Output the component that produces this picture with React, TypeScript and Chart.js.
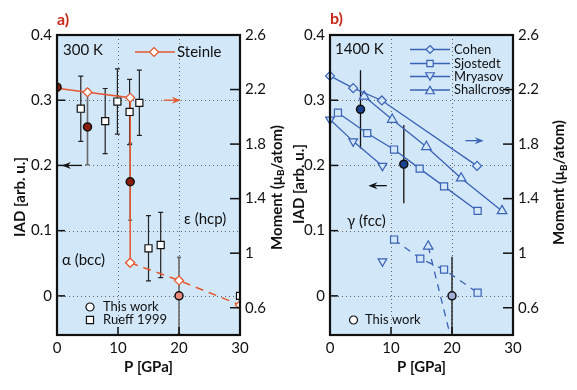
import React, { useEffect, useRef } from 'react';
import { Chart, registerables } from 'chart.js';

Chart.register(...registerables);

const FONT = 'Lato, "DejaVu Sans", sans-serif';
const BG = '#d2e7f8';
const ORANGE = '#e4582f';
const BLUE = '#3a62b6';
const DARKRED = '#8c1c0c';
const SALMON = '#e98a7c';
const DARKBLUE = '#1c428e';
const LIGHTBLUE = '#a3afd9';

// ---- shared axes ----
const P_TICKS = [0, 10, 20, 30];
const P_LABELS = ['0', '10', '20', '30'];
const IAD_TICKS = [0, 0.1, 0.2, 0.3, 0.4];
const IAD_LABELS = ['0', '0.1', '0.2', '0.3', '0.4'];
const MOMENT_TICKS = [0.6, 1, 1.4, 1.8, 2.2, 2.6];
const MOMENT_LABELS = ['0.6', '1', '1.4', '1.8', '2.2', '2.6'];
const P_GRID = [10, 20];
const IAD_GRID = [0, 0.1, 0.2, 0.3];
const MOMENT_INNER_TICKS = [0.6, 1, 1.4, 1.8, 2.2];

// ---- panel a (300 K) ----
const A_WORK_P = [0, 5, 12, 20];
const A_WORK_IAD = [0.32, 0.259, 0.175, 0];
const A_WORK_ERR = [0, 0.058, 0.059, 0.059];
const A_WORK_COLORS = [DARKRED, DARKRED, DARKRED, SALMON];
const RUEFF_P = [3.9, 7.9, 9.9, 11.9, 13.5, 15, 17, 30];
const RUEFF_IAD = [0.287, 0.268, 0.298, 0.282, 0.296, 0.073, 0.078, 0];
const RUEFF_ERR = [0.05, 0.05, 0.05, 0.05, 0.05, 0.05, 0.05, 0];
const STEINLE_HI_P = [0, 5, 12, 12];
const STEINLE_HI_M = [2.21, 2.18, 2.14, 0.93];
const STEINLE_LO_P = [12, 20, 30];
const STEINLE_LO_M = [0.93, 0.8, 0.62];

// ---- panel b (1400 K) ----
const B_WORK_P = [5, 12.1, 20];
const B_WORK_IAD = [0.286, 0.202, 0];
const B_WORK_ERR = [0.06, 0.06, 0.06];
const B_WORK_COLORS = [DARKBLUE, DARKBLUE, LIGHTBLUE];
const COHEN_P = [0, 3.8, 8.5, 24.1];
const COHEN_M = [2.3, 2.21, 2.12, 1.64];
const SJOSTEDT_P = [1.3, 6.1, 10.5, 14.7, 18.7, 24.2];
const SJOSTEDT_M = [2.03, 1.88, 1.76, 1.62, 1.49, 1.31];
const MRYASOV_P = [0, 3.8, 8.6];
const MRYASOV_M = [1.98, 1.82, 1.64];
const SHALLCROSS_P = [5.6, 10.2, 15.8, 21.5, 28.2];
const SHALLCROSS_M = [2.15, 1.98, 1.78, 1.55, 1.31];
const SJOSTEDT_LO_P = [10.5, 14.8, 18.7, 24.2];
const SJOSTEDT_LO_M = [1.1, 0.96, 0.88, 0.71];
const MRYASOV_LO_P = [8.6];
const MRYASOV_LO_M = [0.94];
const SHALLCROSS_LO_P = [16.1, 19.8];
const SHALLCROSS_LO_M = [1.05, 0.38];

const pts = (xs: number[], ys: number[]) => xs.map((x, i) => ({ x, y: ys[i] }));

type TextItem = { t: string; x: number; y: number; size: number; bold?: boolean; color?: string };
type Arrow = { x1: number; x2: number; y: number; color: string };
type LegendItem = { x: number; y: number; style: string; rotation?: number; color: string; fill: string; line?: [number, number]; radius: number };

function drawArrow(ctx: CanvasRenderingContext2D, x1: number, y1: number, x2: number, y2: number, color: string) {
  const ang = Math.atan2(y2 - y1, x2 - x1);
  const c = Math.cos(ang), s = Math.sin(ang);
  const hl = 9, hw = 3.5;
  const bx = x2 - hl * c, by = y2 - hl * s;
  ctx.save();
  ctx.setLineDash([]);
  ctx.strokeStyle = color;
  ctx.fillStyle = color;
  ctx.lineWidth = 1.3;
  ctx.beginPath();
  ctx.moveTo(x1, y1);
  ctx.lineTo(bx + 3 * c, by + 3 * s);
  ctx.stroke();
  ctx.beginPath();
  ctx.moveTo(x2, y2);
  ctx.lineTo(bx - hw * s, by + hw * c);
  ctx.lineTo(bx + 3 * c, by + 3 * s);
  ctx.lineTo(bx + hw * s, by - hw * c);
  ctx.closePath();
  ctx.fill();
  ctx.restore();
}

function drawRotatedTitle(ctx: CanvasRenderingContext2D, cx: number, cy: number, parts: { t: string; sub?: boolean }[]) {
  ctx.save();
  ctx.translate(cx, cy);
  ctx.rotate(-Math.PI / 2);
  ctx.fillStyle = '#111';
  ctx.textBaseline = 'middle';
  ctx.textAlign = 'left';
  const big = `bold 15px ${FONT}`;
  const small = `bold 10px ${FONT}`;
  let total = 0;
  for (const p of parts) {
    ctx.font = p.sub ? small : big;
    total += ctx.measureText(p.t).width;
  }
  let x = -total / 2;
  for (const p of parts) {
    ctx.font = p.sub ? small : big;
    ctx.fillText(p.t, x, p.sub ? 4 : 0);
    x += ctx.measureText(p.t).width;
  }
  ctx.restore();
}

function drawPointLocal(ctx: CanvasRenderingContext2D, style: string, r: number, x: number, y: number, rot: number) {
  ctx.save();
  ctx.translate(x, y);
  ctx.rotate((rot * Math.PI) / 180);
  ctx.beginPath();
  if (style === 'circle') {
    ctx.arc(0, 0, r, 0, Math.PI * 2);
  } else if (style === 'rect') {
    const s = r * Math.SQRT1_2;
    ctx.rect(-s, -s, 2 * s, 2 * s);
  } else if (style === 'rectRot') {
    ctx.moveTo(0, -r);
    ctx.lineTo(r, 0);
    ctx.lineTo(0, r);
    ctx.lineTo(-r, 0);
    ctx.closePath();
  } else if (style === 'triangle') {
    for (let k = 0; k < 3; k++) {
      const ang = -Math.PI / 2 + (k * 2 * Math.PI) / 3;
      const px = Math.cos(ang) * r, py = Math.sin(ang) * r + r * 0.25;
      if (k === 0) ctx.moveTo(px, py);
      else ctx.lineTo(px, py);
    }
    ctx.closePath();
  }
  ctx.fill();
  ctx.stroke();
  ctx.restore();
}

function makeDecor(cfg: {
  id: string;
  texts: TextItem[];
  arrows: Arrow[];
  legend: LegendItem[];
  leftTitle: [number, number];
  rightTitle: [number, number];
}) {
  return {
    id: cfg.id,
    beforeDatasetsDraw(chart: any) {
      const { ctx, chartArea: a, scales } = chart;
      ctx.save();
      ctx.fillStyle = BG;
      ctx.fillRect(a.left, a.top, a.right - a.left, a.bottom - a.top);
      // dotted grid
      ctx.strokeStyle = '#666';
      ctx.lineWidth = 1;
      ctx.setLineDash([1, 3]);
      for (const v of P_GRID) {
        const x = Math.round(scales.x.getPixelForValue(v)) + 0.5;
        ctx.beginPath();
        ctx.moveTo(x, a.top);
        ctx.lineTo(x, a.bottom);
        ctx.stroke();
      }
      for (const v of IAD_GRID) {
        const y = Math.round(scales.y.getPixelForValue(v)) + 0.5;
        ctx.beginPath();
        ctx.moveTo(a.left, y);
        ctx.lineTo(a.right, y);
        ctx.stroke();
      }
      ctx.setLineDash([]);
      // error bars
      ctx.beginPath();
      ctx.rect(a.left, a.top, a.right - a.left, a.bottom - a.top);
      ctx.clip();
      chart.data.datasets.forEach((ds: any, di: number) => {
        if (!ds.errors) return;
        const meta = chart.getDatasetMeta(di);
        const ys = scales[ds.yAxisID];
        ctx.strokeStyle = ds.errColor;
        ctx.lineWidth = ds.errWidth || 1.3;
        ds.data.forEach((d: any, i: number) => {
          const e = ds.errors[i];
          if (!e) return;
          const x = meta.data[i].x;
          const y1 = ys.getPixelForValue(d.y + e);
          const y2 = ys.getPixelForValue(d.y - e);
          ctx.beginPath();
          ctx.moveTo(x, y1);
          ctx.lineTo(x, y2);
          const cap = ds.errCap || 0;
          if (cap) {
            ctx.moveTo(x - cap, y1);
            ctx.lineTo(x + cap, y1);
            ctx.moveTo(x - cap, y2);
            ctx.lineTo(x + cap, y2);
          }
          ctx.stroke();
        });
      });
      ctx.restore();
    },
    afterDatasetsDraw(chart: any) {
      const { ctx, chartArea: a, scales } = chart;
      ctx.save();
      // inward ticks
      ctx.strokeStyle = '#111';
      ctx.lineWidth = 1.5;
      for (const v of IAD_GRID) {
        const y = scales.y.getPixelForValue(v);
        ctx.beginPath();
        ctx.moveTo(a.left, y);
        ctx.lineTo(a.left + 8, y);
        ctx.stroke();
      }
      for (const v of MOMENT_INNER_TICKS) {
        const y = scales.y2.getPixelForValue(v);
        ctx.beginPath();
        ctx.moveTo(a.right, y);
        ctx.lineTo(a.right - 10, y);
        ctx.stroke();
      }
      for (const v of P_GRID) {
        const x = scales.x.getPixelForValue(v);
        ctx.beginPath();
        ctx.moveTo(x, a.bottom);
        ctx.lineTo(x, a.bottom - 8);
        ctx.stroke();
      }
      // frame
      ctx.lineWidth = 2.2;
      ctx.strokeRect(a.left, a.top, a.right - a.left, a.bottom - a.top);
      // arrows
      for (const ar of cfg.arrows) {
        const y = scales.y.getPixelForValue(ar.y);
        drawArrow(ctx, scales.x.getPixelForValue(ar.x1), y, scales.x.getPixelForValue(ar.x2), y, ar.color);
      }
      // legend symbols
      for (const lg of cfg.legend) {
        if (lg.line) {
          ctx.strokeStyle = lg.color;
          ctx.lineWidth = 1.3;
          ctx.beginPath();
          ctx.moveTo(lg.line[0], lg.y);
          ctx.lineTo(lg.line[1], lg.y);
          ctx.stroke();
        }
        ctx.fillStyle = lg.fill;
        ctx.strokeStyle = lg.color;
        ctx.lineWidth = 1.2;
        drawPointLocal(ctx, lg.style, lg.radius, lg.x, lg.y, lg.rotation || 0);
      }
      // texts
      ctx.textBaseline = 'middle';
      ctx.textAlign = 'left';
      for (const t of cfg.texts) {
        ctx.font = `${t.bold ? 'bold ' : ''}${t.size}px ${FONT}`;
        ctx.fillStyle = t.color || '#111';
        ctx.fillText(t.t, t.x, t.y);
      }
      // axis titles
      drawRotatedTitle(ctx, cfg.leftTitle[0], cfg.leftTitle[1], [{ t: 'IAD [arb. u.]' }]);
      drawRotatedTitle(ctx, cfg.rightTitle[0], cfg.rightTitle[1], [{ t: 'Moment (μ' }, { t: 'B', sub: true }, { t: '/atom)' }]);
      ctx.font = `bold 15px ${FONT}`;
      ctx.fillStyle = '#111';
      ctx.textAlign = 'center';
      ctx.fillText('P [GPa]', (a.left + a.right) / 2, 367);
      ctx.restore();
    },
  };
}

function baseOptions(leftW: number, rightW: number) {
  const tickFont = { family: FONT, size: 15 };
  return {
    responsive: false,
    animation: false as const,
    devicePixelRatio: 1,
    layout: { padding: { top: 35, left: 0, right: 0, bottom: 0 } },
    plugins: { legend: { display: false }, tooltip: { enabled: false } },
    scales: {
      x: {
        type: 'linear' as const,
        position: 'bottom' as const,
        min: 0,
        max: 30,
        afterBuildTicks: (s: any) => { s.ticks = P_TICKS.map((v) => ({ value: v })); },
        afterFit: (s: any) => { s.height = 55; },
        grid: { display: false, drawTicks: false },
        border: { display: false },
        ticks: { font: tickFont, color: '#111', padding: 4, maxRotation: 0, autoSkip: false, callback: (_v: any, i: number) => P_LABELS[i] },
      },
      y: {
        type: 'linear' as const,
        position: 'left' as const,
        min: -0.06,
        max: 0.4,
        afterBuildTicks: (s: any) => { s.ticks = IAD_TICKS.map((v) => ({ value: v })); },
        afterFit: (s: any) => { s.width = leftW; },
        grid: { display: false, drawTicks: false },
        border: { display: false },
        ticks: { font: tickFont, color: '#111', padding: 5, autoSkip: false, callback: (_v: any, i: number) => IAD_LABELS[i] },
      },
      y2: {
        type: 'linear' as const,
        position: 'right' as const,
        min: 0.4,
        max: 2.6,
        afterBuildTicks: (s: any) => { s.ticks = MOMENT_TICKS.map((v) => ({ value: v })); },
        afterFit: (s: any) => { s.width = rightW; },
        grid: { display: false, drawTicks: false },
        border: { display: false },
        ticks: { font: tickFont, color: '#111', padding: 5, autoSkip: false, callback: (_v: any, i: number) => MOMENT_LABELS[i] },
      },
    },
  };
}

function PanelA() {
  const ref = useRef<HTMLCanvasElement>(null);
  useEffect(() => {
    const decor = makeDecor({
      id: 'decorA',
      texts: [
        { t: 'a)', x: 57, y: 20, size: 16, bold: true, color: '#c8281a' },
        { t: '300 K', x: 63, y: 50, size: 15 },
        { t: 'Steinle', x: 177, y: 52, size: 15 },
        { t: 'α (bcc)', x: 62, y: 260, size: 15 },
        { t: 'ε (hcp)', x: 184, y: 219, size: 15 },
        { t: 'This work', x: 103, y: 307, size: 13 },
        { t: 'Rueff 1999', x: 103, y: 320, size: 13 },
      ],
      arrows: [
        { x1: 4.1, x2: 0.8, y: 0.2, color: '#111' },
        { x1: 17.5, x2: 20.3, y: 0.3, color: ORANGE },
      ],
      legend: [
        { x: 154, y: 52, style: 'rectRot', color: ORANGE, fill: '#fff', line: [135, 175], radius: 4.5 },
        { x: 90, y: 307, style: 'circle', color: '#111', fill: '#fff', radius: 4 },
        { x: 90, y: 320, style: 'rect', color: '#111', fill: '#fff', radius: 5 },
      ],
      leftTitle: [20, 197],
      rightTitle: [277, 187.5],
    });
    const chart = new Chart(ref.current!, {
      type: 'scatter',
      data: {
        datasets: [
          {
            data: pts(A_WORK_P, A_WORK_IAD),
            yAxisID: 'y',
            showLine: false,
            pointStyle: 'circle',
            pointRadius: 4,
            pointBackgroundColor: A_WORK_COLORS,
            pointBorderColor: '#111',
            pointBorderWidth: 1.5,
            clip: 0,
            errors: A_WORK_ERR,
            errColor: '#6a6a6a',
            errCap: 2,
            errWidth: 1.6,
          } as any,
          {
            data: pts(RUEFF_P, RUEFF_IAD),
            yAxisID: 'y',
            showLine: false,
            pointStyle: 'rect',
            pointRadius: 5,
            pointBackgroundColor: '#fff',
            pointBorderColor: '#111',
            pointBorderWidth: 1.2,
            errors: RUEFF_ERR,
            errColor: '#222',
            errCap: 2.5,
            errWidth: 1.2,
          } as any,
          {
            data: pts(STEINLE_HI_P, STEINLE_HI_M),
            yAxisID: 'y2',
            showLine: true,
            borderColor: ORANGE,
            borderWidth: 1.5,
            pointStyle: 'rectRot',
            pointRadius: 4.5,
            pointBackgroundColor: '#fff',
            pointBorderColor: ORANGE,
            pointBorderWidth: 1.2,
          },
          {
            data: pts(STEINLE_LO_P, STEINLE_LO_M),
            yAxisID: 'y2',
            showLine: true,
            borderColor: ORANGE,
            borderWidth: 1.5,
            borderDash: [8, 6],
            pointStyle: 'rectRot',
            pointRadius: 4.5,
            pointBackgroundColor: '#fff',
            pointBorderColor: ORANGE,
            pointBorderWidth: 1.2,
          },
        ],
      },
      options: baseOptions(57, 50) as any,
      plugins: [decor],
    });
    return () => chart.destroy();
  }, []);
  return <canvas ref={ref} width={290} height={390} style={{ position: 'absolute', left: 0, top: 0, width: 290, height: 390 }} />;
}

function PanelB() {
  const ref = useRef<HTMLCanvasElement>(null);
  useEffect(() => {
    const lx = 140;
    const line: [number, number] = [120, 160];
    const decor = makeDecor({
      id: 'decorB',
      texts: [
        { t: 'b)', x: 40, y: 19, size: 16, bold: true, color: '#c8281a' },
        { t: '1400 K', x: 45, y: 49, size: 15 },
        { t: 'Cohen', x: 164, y: 49.5, size: 13 },
        { t: 'Sjostedt', x: 164, y: 63.5, size: 13 },
        { t: 'Mryasov', x: 164, y: 76.5, size: 13 },
        { t: 'Shallcross', x: 164, y: 90, size: 13 },
        { t: 'γ (fcc)', x: 57, y: 221, size: 15 },
        { t: 'This work', x: 75, y: 320, size: 13 },
      ],
      arrows: [
        { x1: 22.2, x2: 25.2, y: 0.238, color: BLUE },
        { x1: 9.3, x2: 6.3, y: 0.169, color: '#111' },
      ],
      legend: [
        { x: lx, y: 49.5, style: 'rectRot', color: BLUE, fill: BG, line, radius: 4 },
        { x: lx, y: 63.5, style: 'rect', color: BLUE, fill: BG, line, radius: 4.5 },
        { x: lx, y: 76.5, style: 'triangle', rotation: 180, color: BLUE, fill: BG, line, radius: 5 },
        { x: lx, y: 90, style: 'triangle', color: BLUE, fill: BG, line, radius: 5 },
        { x: 63.5, y: 320, style: 'circle', color: '#111', fill: '#fff', radius: 4 },
      ],
      leftTitle: [9, 184],
      rightTitle: [269.5, 182.5],
    });
    const theory = (xs: number[], ys: number[], style: string, r: number | number[], extra: any = {}) => ({
      data: pts(xs, ys),
      yAxisID: 'y2',
      showLine: true,
      borderColor: BLUE,
      borderWidth: 1.3,
      pointStyle: style,
      pointRadius: r,
      pointBackgroundColor: BG,
      pointBorderColor: BLUE,
      pointBorderWidth: 1.2,
      clip: 8,
      ...extra,
    });
    const chart = new Chart(ref.current!, {
      type: 'scatter',
      data: {
        datasets: [
          {
            data: pts(B_WORK_P, B_WORK_IAD),
            yAxisID: 'y',
            showLine: false,
            pointStyle: 'circle',
            pointRadius: 4,
            pointBackgroundColor: B_WORK_COLORS,
            pointBorderColor: '#111',
            pointBorderWidth: 1.5,
            errors: B_WORK_ERR,
            errColor: '#111',
            errCap: 0,
            errWidth: 1.3,
          } as any,
          theory(COHEN_P, COHEN_M, 'rectRot', 4.5),
          theory(SJOSTEDT_P, SJOSTEDT_M, 'rect', 5),
          theory(MRYASOV_P, MRYASOV_M, 'triangle', 5, { pointRotation: 180 }),
          theory(SHALLCROSS_P, SHALLCROSS_M, 'triangle', 5.5),
          theory(SJOSTEDT_LO_P, SJOSTEDT_LO_M, 'rect', 5, { borderDash: [7, 6] }),
          theory(MRYASOV_LO_P, MRYASOV_LO_M, 'triangle', 5, { pointRotation: 180, borderDash: [7, 6] }),
          theory(SHALLCROSS_LO_P, SHALLCROSS_LO_M, 'triangle', [5.5, 0], { borderDash: [7, 6], clip: 0 }),
        ],
      },
      options: baseOptions(40, 64) as any,
      plugins: [decor],
    });
    return () => chart.destroy();
  }, []);
  return <canvas ref={ref} width={287} height={390} style={{ position: 'absolute', left: 290, top: 0, width: 287, height: 390 }} />;
}

export default function App() {
  return (
    <div style={{ position: 'fixed', left: 0, top: 0, width: 577, height: 390, background: '#fff' }}>
      <PanelA />
      <PanelB />
    </div>
  );
}
